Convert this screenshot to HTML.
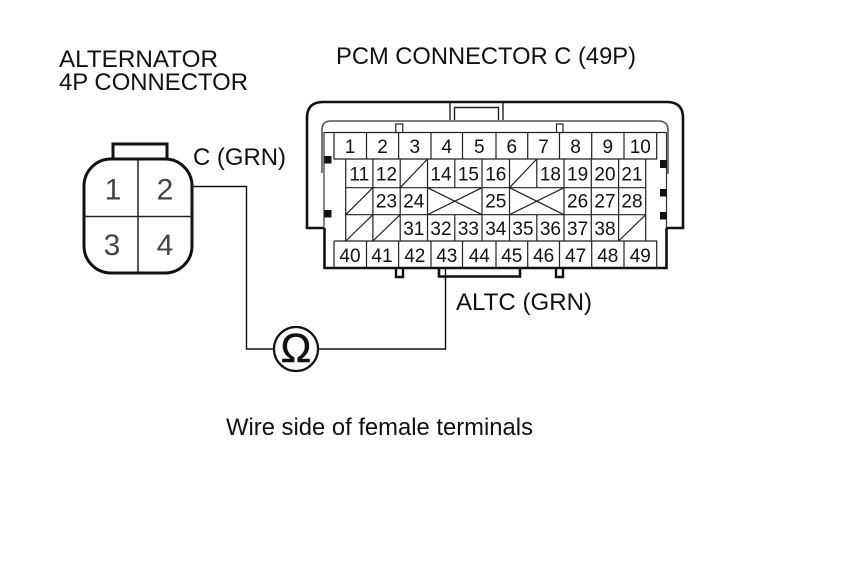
<!DOCTYPE html>
<html><head><meta charset="utf-8"><style>
html,body{margin:0;padding:0;background:#fff}
svg{display:block}
text{font-family:"Liberation Sans",Arial,sans-serif;fill:#111}
</style></head><body>
<svg width="860" height="580" viewBox="0 0 860 580" xmlns="http://www.w3.org/2000/svg">
<rect width="860" height="580" fill="#fff"/>
<g font-size="24.5">
<text x="59" y="67" textLength="159" lengthAdjust="spacingAndGlyphs">ALTERNATOR</text>
<text x="59" y="90" textLength="189" lengthAdjust="spacingAndGlyphs">4P CONNECTOR</text>
<text x="336" y="64" textLength="300" lengthAdjust="spacingAndGlyphs">PCM CONNECTOR C (49P)</text>
<text x="193" y="165" textLength="93" lengthAdjust="spacingAndGlyphs">C (GRN)</text>
<text x="456" y="310" textLength="136" lengthAdjust="spacingAndGlyphs">ALTC (GRN)</text>
<text x="226" y="435" textLength="307" lengthAdjust="spacingAndGlyphs">Wire side of female terminals</text>
</g>
<!-- 4P connector -->
<path d="M113 159V144H167V159" fill="#fff" stroke="#111" stroke-width="3"/>
<rect x="84" y="159" width="108" height="114" rx="27" ry="27" fill="#fff" stroke="#111" stroke-width="3"/>
<path d="M138 159V273M84 216.5H192" stroke="#222" stroke-width="1.5" fill="none"/>
<g font-size="30" text-anchor="middle">
<text x="113" y="199.5" style="fill:#444">1</text>
<text x="165" y="199.5" style="fill:#444">2</text>
<text x="112" y="255" style="fill:#444">3</text>
<text x="165" y="255" style="fill:#444">4</text>
</g>
<!-- wire -->
<path d="M192 186.5H246.5V349H274M318 349H445.5V267" fill="none" stroke="#111" stroke-width="1.4"/>
<circle cx="296" cy="349" r="22" fill="#fff" stroke="#111" stroke-width="2.2"/>
<text x="296" y="362" font-size="41" text-anchor="middle" stroke="#111" stroke-width="0.5">Ω</text>
<!-- PCM connector housing -->
<path d="M324 228H307V118Q307 102 323 102H667Q683 102 683 118V228H666.5" fill="none" stroke="#111" stroke-width="2.6"/>
<path d="M450 102V120M503 102V120M454.5 120V107.5H498.5V120" fill="none" stroke="#222" stroke-width="1.4"/>
<path d="M322 173V130Q322 121 331 121H658Q668 121 668 130V173H666" fill="none" stroke="#555" stroke-width="1.6"/>
<path d="M324 132.5H667" stroke="#222" stroke-width="1.2"/>
<path d="M324 132V228M666.5 132V228" stroke="#333" stroke-width="1.2" fill="none"/>
<rect x="395.8" y="124" width="7" height="8.5" fill="#fff" stroke="#222" stroke-width="1.2"/>
<rect x="556.5" y="124" width="6.5" height="8.5" fill="#fff" stroke="#222" stroke-width="1.2"/>
<path d="M396 268V277H403V268M556 268V277H563V268" fill="#fff" stroke="#111" stroke-width="2.4"/>
<path d="M439 268V276.5H520V268" fill="#fff" stroke="#111" stroke-width="2.6"/>
<path d="M445.5 268V280" stroke="#111" stroke-width="1.4"/>
<path d="M324.5 228V268H666.5V228" fill="none" stroke="#111" stroke-width="2.6"/>
<g fill="#111">
<rect x="324.5" y="156" width="7" height="7.5"/>
<rect x="324.5" y="210" width="7" height="7.5"/>
<rect x="660" y="160" width="7" height="8"/>
<rect x="660" y="189" width="7" height="7.5"/>
<rect x="660" y="212" width="7" height="7.5"/>
</g>
<!-- grid lines -->
<g fill="none" stroke="#222" stroke-width="1.2">
<path d="M334 132.5V159H656.7V132.5M366.5 132.5V159M398.6 132.5V159M431 132.5V159M462.5 132.5V159M496 132.5V159M527.7 132.5V159M559.5 132.5V159M591.7 132.5V159M624 132.5V159"/>
<path d="M334 241H656.7V267M334 241V267M366.5 241V267M398.6 241V267M431 241V267M462.5 241V267M496 241V267M527.7 241V267M559.5 241V267M591.7 241V267M624 241V267"/>
<path d="M345.7 159V241M645.7 159V241M345.7 187.7H645.7M345.7 214.7H645.7"/>
<path d="M372.9 159V241M400.2 159V241M427.5 159V241M454.8 214.7V241M454.8 159V187.7M482 159V241M509.5 159V241M536.8 159V187.7M536.8 214.7V241M564 159V241M591.3 159V241M618.6 159V241"/>
<path d="M400.2 187.7L427.5 159M509.5 187.7L536.8 159M345.7 214.7L372.9 187.7M345.7 241L372.9 214.7M372.9 241L400.2 214.7M618.6 241L645.7 214.7"/>
<path d="M427.5 187.7L482 214.7M427.5 214.7L482 187.7M509.5 187.7L564 214.7M509.5 214.7L564 187.7"/>
</g>
<g font-size="19" text-anchor="middle">
<text x="350" y="153">1</text><text x="382.5" y="153">2</text><text x="414.8" y="153">3</text><text x="446.8" y="153">4</text><text x="479.3" y="153">5</text><text x="511.8" y="153">6</text><text x="543.6" y="153">7</text><text x="575.6" y="153">8</text><text x="607.8" y="153">9</text><text x="640.3" y="153">10</text>
<text x="359.3" y="180.5">11</text><text x="386.5" y="180.5">12</text><text x="441" y="180.5">14</text><text x="468.4" y="180.5">15</text><text x="495.8" y="180.5">16</text><text x="550.4" y="180.5">18</text><text x="577.6" y="180.5">19</text><text x="605" y="180.5">20</text><text x="632" y="180.5">21</text>
<text x="386.5" y="207.5">23</text><text x="413.8" y="207.5">24</text><text x="495.8" y="207.5">25</text><text x="577.6" y="207.5">26</text><text x="605" y="207.5">27</text><text x="632" y="207.5">28</text>
<text x="413.8" y="235">31</text><text x="441" y="235">32</text><text x="468.4" y="235">33</text><text x="495.8" y="235">34</text><text x="523" y="235">35</text><text x="550.4" y="235">36</text><text x="577.6" y="235">37</text><text x="605" y="235">38</text>
<text x="350" y="262">40</text><text x="382" y="262">41</text><text x="414.8" y="262">42</text><text x="446.8" y="262">43</text><text x="479.3" y="262">44</text><text x="511.8" y="262">45</text><text x="543.6" y="262">46</text><text x="575.6" y="262">47</text><text x="607.8" y="262">48</text><text x="640.3" y="262">49</text>
</g>
</svg>
</body></html>
